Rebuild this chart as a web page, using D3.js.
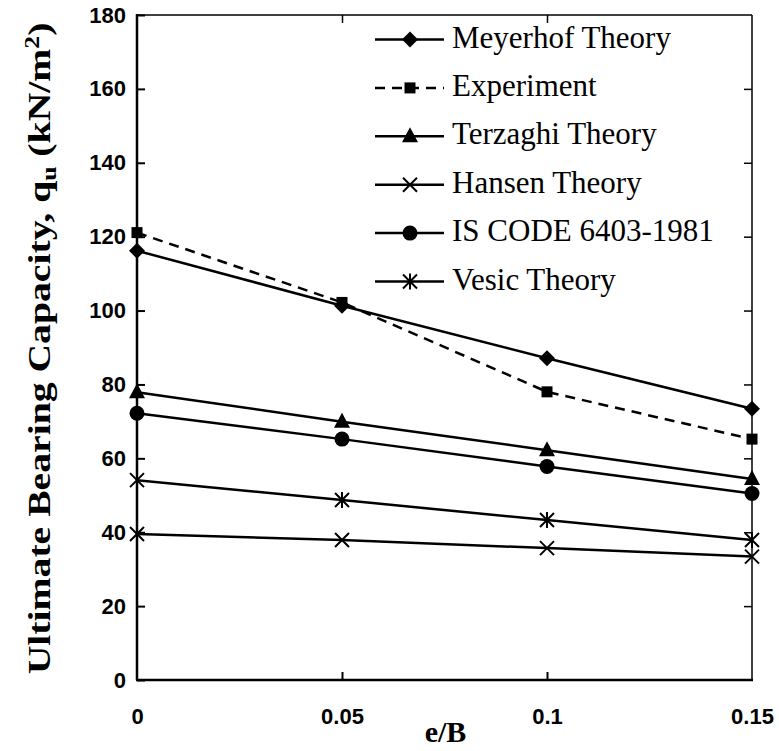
<!DOCTYPE html>
<html>
<head>
<meta charset="utf-8">
<script src="https://cdn.jsdelivr.net/npm/d3@7"></script>
<style>
  html, body { margin: 0; padding: 0; background: #fff; }
  svg { display: block; }
</style>
</head>
<body>
<svg id="chart" width="779" height="751"></svg>
<script>
// ---- data ----
const eB = [0, 0.05, 0.1, 0.15];
const meyerhof   = [116.2, 101.3, 87.1, 73.4];
const experiment = [121.1, 102.2, 78.0, 65.2];
const terzaghi   = [77.9, 69.9, 62.2, 54.4];
const hansen     = [39.5, 37.9, 35.7, 33.4];
const isCode     = [72.2, 65.2, 57.8, 50.5];
const vesic      = [54.1, 48.7, 43.3, 37.9];
const seriesNames = ["Meyerhof Theory", "Experiment", "Terzaghi Theory", "Hansen Theory", "IS CODE 6403-1981", "Vesic Theory"];
const xTicks = [0, 0.05, 0.1, 0.15];
const xTickLabels = ["0", "0.05", "0.1", "0.15"];
const yTicks = [0, 20, 40, 60, 80, 100, 120, 140, 160, 180];

const series = [
  { name: seriesNames[0], values: meyerhof,   marker: "diamond",  dashed: false },
  { name: seriesNames[1], values: experiment, marker: "square",   dashed: true },
  { name: seriesNames[2], values: terzaghi,   marker: "triangle", dashed: false },
  { name: seriesNames[3], values: hansen,     marker: "x",        dashed: false },
  { name: seriesNames[4], values: isCode,     marker: "circle",   dashed: false },
  { name: seriesNames[5], values: vesic,      marker: "star",     dashed: false }
];

const svg = d3.select("#chart");
const L = 137, R = 752, T = 15, B = 680;
const x = d3.scaleLinear().domain([0, 0.15]).range([L, R]);
const y = d3.scaleLinear().domain([0, 180]).range([B, T]);

const sansBold = "'Liberation Sans', Arial, sans-serif";
const serif = "'Liberation Serif', 'Times New Roman', serif";

// frame: top & right thin
svg.append("line").attr("x1", L).attr("x2", R).attr("y1", T).attr("y2", T).attr("stroke", "#000").attr("stroke-width", 1.5);
svg.append("line").attr("x1", R).attr("x2", R).attr("y1", T).attr("y2", B).attr("stroke", "#000").attr("stroke-width", 1.5);

// inner ticks on top and right
const topAxis = d3.axisTop(x).tickValues(xTicks.slice(1, 3)).tickSizeInner(-8).tickSizeOuter(0).tickFormat("");
const gTop = svg.append("g").attr("transform", `translate(0,${T})`).call(topAxis);
gTop.select(".domain").remove();
gTop.selectAll(".tick line").attr("stroke-width", 1.5);
const rightAxis = d3.axisRight(y).tickValues(yTicks.slice(1, 9)).tickSizeInner(-8).tickSizeOuter(0).tickFormat("");
const gRight = svg.append("g").attr("transform", `translate(${R},0)`).call(rightAxis);
gRight.select(".domain").remove();
gRight.selectAll(".tick line").attr("stroke-width", 1.5);

// left axis
const leftAxis = d3.axisLeft(y).tickValues(yTicks).tickSizeInner(-8).tickSizeOuter(0).tickPadding(11).tickFormat(d3.format("d"));
const gLeft = svg.append("g").attr("transform", `translate(${L},0)`).call(leftAxis);
gLeft.select(".domain").attr("stroke-width", 2.5).attr("d", `M0,${T - 1}V${B}`);
gLeft.selectAll(".tick line").attr("stroke-width", 2);
gLeft.selectAll(".tick text").attr("font-family", sansBold).attr("font-weight", "bold").attr("font-size", 22).attr("fill", "#000");

// bottom axis
const bottomAxis = d3.axisBottom(x).tickValues(xTicks).tickSizeInner(-8).tickSizeOuter(0).tickPadding(28).tickFormat((d, i) => xTickLabels[i]);
const gBot = svg.append("g").attr("transform", `translate(0,${B})`).call(bottomAxis);
gBot.select(".domain").attr("stroke-width", 2.5).attr("d", `M${L - 1},0H${R + 1}`);
gBot.selectAll(".tick line").attr("stroke-width", 2);
gBot.selectAll(".tick line").filter((d) => d === 0 || d === 0.15).remove();
gBot.selectAll(".tick text").attr("font-family", sansBold).attr("font-weight", "bold").attr("font-size", 22).attr("fill", "#000");

// axis titles
svg.append("text").attr("x", (L + R) / 2 + 1).attr("y", 742).attr("text-anchor", "middle")
  .attr("font-family", serif).attr("font-weight", "bold").attr("font-size", 30).text("e/B");

const yt = svg.append("text")
  .attr("transform", `translate(50,${(T + B) / 2 + 1}) rotate(-90) scale(1.28,1)`)
  .attr("text-anchor", "middle")
  .attr("font-family", serif).attr("font-weight", "bold").attr("font-size", 31);
yt.append("tspan").text("Ultimate Bearing Capacity, q");
yt.append("tspan").attr("font-size", 20).attr("dy", 6).text("u");
yt.append("tspan").attr("dy", -6).text(" (kN/m");
yt.append("tspan").attr("font-size", 20).attr("dy", -11).text("2");
yt.append("tspan").attr("dy", 11).text(")");

// marker drawing
function drawMarker(g, type, cx, cy) {
  const s = g.append("g").attr("transform", `translate(${cx},${cy})`);
  if (type === "diamond") {
    s.append("path").attr("d", "M0,-8L8,0L0,8L-8,0Z").attr("fill", "#000");
  } else if (type === "square") {
    s.append("rect").attr("x", -5.5).attr("y", -5.5).attr("width", 11).attr("height", 11).attr("fill", "#000");
  } else if (type === "triangle") {
    s.append("path").attr("d", "M0,-9L8,6L-8,6Z").attr("fill", "#000");
  } else if (type === "circle") {
    s.append("circle").attr("r", 7.5).attr("fill", "#000");
  } else if (type === "x") {
    s.append("path").attr("d", "M-7,-7L7,7M-7,7L7,-7").attr("stroke", "#000").attr("stroke-width", 2).attr("fill", "none");
  } else if (type === "star") {
    s.append("path").attr("d", "M-7,-7L7,7M-7,7L7,-7M0,-8V8").attr("stroke", "#000").attr("stroke-width", 2).attr("fill", "none");
  }
}

const line = d3.line().x((d, i) => x(eB[i])).y(d => y(d));
const plot = svg.append("g");
series.forEach(s => {
  plot.append("path").datum(s.values).attr("d", line)
    .attr("fill", "none").attr("stroke", "#000").attr("stroke-width", 2.5)
    .attr("stroke-dasharray", s.dashed ? "10,7" : null);
});
series.forEach(s => {
  s.values.forEach((v, i) => drawMarker(plot, s.marker, x(eB[i]), y(v)));
});

// legend
const leg = svg.append("g");
series.forEach((s, i) => {
  const cy = 39.5 + i * 48.4;
  leg.append("line").attr("x1", 375).attr("x2", 444).attr("y1", cy).attr("y2", cy)
    .attr("stroke", "#000").attr("stroke-width", 2.5).attr("stroke-dasharray", s.dashed ? "10,7" : null);
  drawMarker(leg, s.marker, 410, cy);
  leg.append("text").attr("x", 452).attr("y", cy + 8).attr("font-family", serif)
    .attr("font-size", 31).attr("fill", "#000").text(s.name);
});
</script>
</body>
</html>
